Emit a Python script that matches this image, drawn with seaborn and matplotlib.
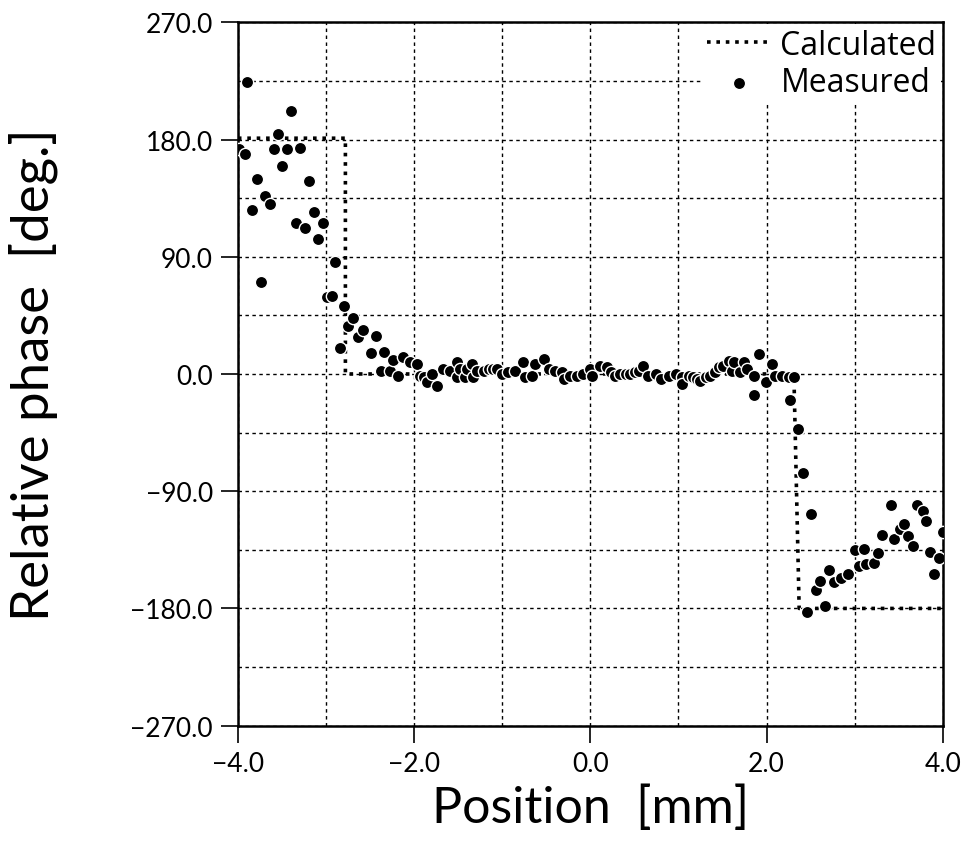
import numpy as np
import pandas as pd
import matplotlib
matplotlib.use("Agg")
import matplotlib.pyplot as plt
import seaborn as sns

# calculated phase (step profile)
calc_x = [-4.0, -2.78, -2.78, 2.31, 2.37, 4.0]
calc_y = [181.0, 181.0, 0.0, 0.0, -180.0, -180.0]

# measured phase
meas_x = [-3.985, -3.92, -3.894, -3.845, -3.788, -3.742, -3.693, -3.636, -3.59, -3.549,
          -3.497, -3.447, -3.398, -3.34, -3.29, -3.239, -3.193, -3.136, -3.094, -3.038,
          -2.992, -2.935, -2.894, -2.841, -2.792, -2.747, -2.69, -2.64, -2.576, -2.489,
          -2.432, -2.378, -2.341, -2.27, -2.235, -2.178, -2.13, -2.045, -1.97, -1.93,
          -1.89, -1.85, -1.8, -1.74, -1.667, -1.59, -1.515, -1.515, -1.48, -1.42,
          -1.4, -1.344, -1.33, -1.29, -1.21, -1.155, -1.1, -1.06, -1.0, -0.93,
          -0.85, -0.76, -0.74, -0.66, -0.625, -0.53, -0.474, -0.4, -0.32, -0.3,
          -0.23, -0.15, -0.08, 0.0, 0.02, 0.11, 0.19, 0.23, 0.28, 0.34,
          0.40, 0.45, 0.51, 0.55, 0.6, 0.66, 0.74, 0.8, 0.89, 0.97,
          1.04, 1.04, 1.12, 1.17, 1.21, 1.25, 1.31, 1.36, 1.42, 1.46,
          1.51, 1.57, 1.61, 1.63, 1.70, 1.74, 1.78, 1.86, 1.86, 1.91,
          1.99, 2.06, 2.1, 2.18, 2.25, 2.27, 2.31, 2.36, 2.41, 2.46,
          2.51, 2.56, 2.61, 2.66, 2.71, 2.76, 2.84, 2.92, 3.0, 3.05,
          3.11, 3.13, 3.22, 3.26, 3.31, 3.41, 3.45, 3.51, 3.56, 3.6,
          3.66, 3.71, 3.77, 3.81, 3.86, 3.9, 3.96, 4.0]
meas_y = [173.0, 168.5, 224.4, 125.6, 149.5, 70.5, 136.4, 130.2, 172.5, 184.4,
          159.5, 172.5, 201.8, 115.9, 173.6, 112.3, 148.5, 124.4, 103.8, 116.2,
          59.2, 59.8, 85.9, 20.0, 52.5, 36.7, 42.8, 28.2, 34.0, 15.9,
          29.5, 2.1, 16.7, 2.6, 11.0, -1.3, 13.3, 9.0, 7.7, -1.3,
          -2.6, -6.3, 0.0, -9.0, 3.8, 2.6, 9.0, -2.6, 3.8, -2.6,
          3.8, 7.7, -2.6, 2.6, 2.6, 3.8, 3.8, 3.8, 0.0, 1.3,
          2.6, 9.0, -2.6, -1.3, 7.7, 11.5, 3.8, 2.6, 1.3, -3.8,
          -1.3, -1.3, 0.0, 3.8, -1.3, 6.4, 5.1, 1.3, -1.3, 0.0,
          0.0, 0.0, 1.3, 2.6, 6.4, -1.3, 0.0, -3.8, -1.3, 0.0,
          -2.6, -7.7, -1.3, -2.6, -3.8, -5.1, -2.6, -1.3, 1.3, 5.1,
          6.4, 10.3, 2.6, 9.0, 1.3, 9.0, 3.8, -1.3, -16.2, 15.4,
          -5.8, 7.7, -1.3, -1.3, -2.6, -20.0, -2.6, -42.3, -76.2, -182.8,
          -107.7, -166.2, -159.0, -178.0, -150.5, -159.7, -157.0, -153.8, -135.1, -147.4,
          -134.0, -146.2, -144.9, -137.7, -123.8, -100.5, -126.9, -118.7, -115.0, -124.4,
          -132.0, -100.5, -105.0, -112.8, -136.7, -153.8, -141.0, -121.0]

x_ticks = [-4, -2, 0, 2, 4]
y_ticks = [-270, -180, -90, 0, 90, 180, 270]

sns.set_style("ticks")
plt.rcParams['font.family'] = ['Lato', 'DejaVu Sans']
for key in ['text.color', 'axes.labelcolor', 'xtick.color', 'ytick.color']:
    plt.rcParams[key] = 'black'

fig = plt.figure(figsize=(9.79, 8.62), dpi=100)
ax = fig.add_axes([0.243, 0.157, 0.720, 0.816])

df_meas = pd.DataFrame({"x": meas_x, "y": meas_y})
df_calc = pd.DataFrame({"x": calc_x, "y": calc_y})

sns.lineplot(data=df_calc, x="x", y="y", sort=False, estimator=None, ax=ax,
             color="black", linewidth=2.6, linestyle=(0, (1, 1.6)),
             label="Calculated", zorder=2)
sns.scatterplot(data=df_meas, x="x", y="y", ax=ax, color="black", s=78,
                edgecolor="white", linewidth=1.0, label="Measured", zorder=3)

ax.set_xlim(-4, 4)
ax.set_ylim(-270, 270)
ax.set_xticks(x_ticks)
ax.set_yticks(y_ticks)
ax.set_xticks(np.arange(-3, 4, 2), minor=True)
ax.set_yticks(np.arange(-225, 270, 90), minor=True)
fmt = matplotlib.ticker.FuncFormatter(lambda v, p: f"{v:.1f}".replace("-", "\u2212"))
ax.xaxis.set_major_formatter(fmt)
ax.yaxis.set_major_formatter(fmt)
ax.grid(True, which="both", color="black", linestyle=(0, (2.5, 2.5)), linewidth=1.0)

ax.tick_params(axis="both", which="major", labelsize=19, direction="out",
               length=12, width=1.2, pad=6, colors="black")
ax.tick_params(axis="both", which="minor", length=0)
for sp in ax.spines.values():
    sp.set_linewidth(1.8)
    sp.set_color("black")

ax.set_xlabel("Position  [mm]", fontsize=36, labelpad=6)
ax.set_ylabel("Relative phase  [deg.]", fontsize=38)
ax.yaxis.set_label_coords(-0.255, 0.5)

leg = ax.legend(loc="upper right", frameon=True, framealpha=1.0,
                edgecolor="white", handlelength=2.0, handletextpad=0.3,
                borderaxespad=0.05, borderpad=0.15, labelspacing=0.15,
                prop={"family": ["Open Sans", "DejaVu Sans"], "size": 23})
leg.get_frame().set_linewidth(0)

fig.savefig("out.png", dpi=100)
